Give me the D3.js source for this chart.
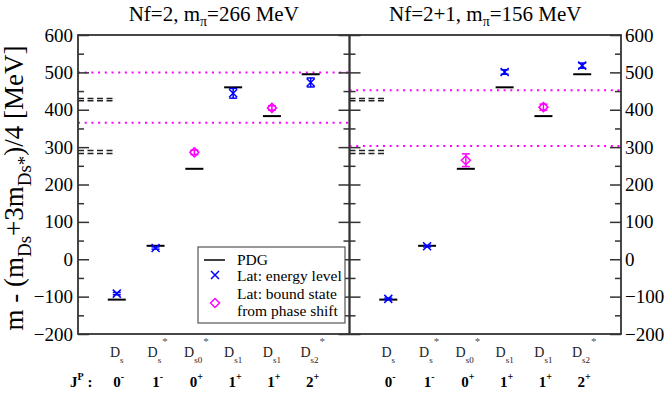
<!DOCTYPE html>
<html>
<head>
<meta charset="utf-8">
<script src="https://cdn.jsdelivr.net/npm/d3@7"></script>
<style>
  body { margin: 0; background: #fff; }
  svg text { font-family: "Liberation Serif", "Times New Roman", Times, serif; }
</style>
</head>
<body>
<div id="chart"></div>
<script>
// Categories along x (position 1..6).
var catSub = ["s", "s", "s0", "s1", "s1", "s2"];
var catSup = ["", "*", "*", "", "", "*"];
var jpNum = ["0", "1", "0", "1", "1", "2"];
var jpSign = ["-", "-", "+", "+", "+", "+"];

// PDG values (MeV, relative to spin average).
var pdg = [-108, 36, 242, 460, 383, 495];

// Panel 1: Nf=2, m_pi=266 MeV
var lat1 = [-92, 30, 286, 444, 405, 473];
var err1 = [3, 3, 6, 13, 6, 12];
var kind1 = ["E", "E", "B", "E", "B", "E"];   // E = energy level, B = bound state
var thr1 = [500, 365];
var dash1 = [430, 424, 291, 283];

// Panel 2: Nf=2+1, m_pi=156 MeV
var lat2 = [-106, 35, 265, 501, 407, 518];
var err2 = [2, 2, 17, 6, 8, 7];
var kind2 = ["E", "E", "B", "E", "B", "E"];
var thr2 = [452, 303];
var dash2 = [430, 424, 291, 283];

var yMajor = [-200, -100, 0, 100, 200, 300, 400, 500, 600];
var yMinor = [-150, -50, 50, 150, 250, 350, 450, 550];

var W = 664, H = 393;
var plotTop = 35, plotH = 299, panelW = 271.5;
var left1 = 78, left2 = 349.5;

var svg = d3.select("#chart").append("svg")
    .attr("width", W).attr("height", H);

var x = d3.scaleLinear().domain([0, 7]).range([0, panelW]);
var y = d3.scaleLinear().domain([-200, 600]).range([plotH, 0]);

var BLUE = "#0000ff", MAG = "#ff00ff", FRAME = "#333";

function drawPanel(x0, title, lat, err, kind, thr, dash, labelsLeft, labelsRight) {
    var g = svg.append("g").attr("transform", "translate(" + x0 + "," + plotTop + ")");

    // threshold lines (dotted magenta)
    g.selectAll(".thr").data(thr).enter().append("line")
        .attr("x1", 0).attr("x2", panelW)
        .attr("y1", d => y(d)).attr("y2", d => y(d))
        .attr("stroke", MAG).attr("stroke-width", 2)
        .attr("stroke-dasharray", "2,4.7");

    // short dashed lines near left edge
    g.selectAll(".dsh").data(dash).enter().append("line")
        .attr("x1", 0).attr("x2", 37)
        .attr("y1", d => y(d)).attr("y2", d => y(d))
        .attr("stroke", "#222").attr("stroke-width", 1.5)
        .attr("stroke-dasharray", "6,3.5");

    // axes: major + minor ticks, inward on both sides
    var la = g.append("g").call(d3.axisLeft(y).tickValues(yMajor).tickSize(-11)
        .tickFormat(labelsLeft ? d3.format("d") : ""));
    var lm = g.append("g").call(d3.axisLeft(y).tickValues(yMinor).tickSize(-6).tickFormat(""));
    var ra = g.append("g").attr("transform", "translate(" + panelW + ",0)")
        .call(d3.axisRight(y).tickValues(yMajor).tickSize(-11)
        .tickFormat(labelsRight ? d3.format("d") : ""));
    var rm = g.append("g").attr("transform", "translate(" + panelW + ",0)")
        .call(d3.axisRight(y).tickValues(yMinor).tickSize(-6).tickFormat(""));
    [la, lm, ra, rm].forEach(function (a) {
        a.attr("font-family", null);
        a.select(".domain").remove();
        a.selectAll("line").attr("stroke", FRAME).attr("stroke-width", 1.5);
        a.selectAll("text").attr("font-size", 19).attr("fill", "#000");
    });
    la.selectAll("text").attr("x", -5);
    ra.selectAll("text").attr("x", 4);

    // frame
    g.append("rect").attr("x", 0).attr("y", 0)
        .attr("width", panelW).attr("height", plotH)
        .attr("fill", "none").attr("stroke", FRAME).attr("stroke-width", 1.8);

    // PDG lines
    g.selectAll(".pdg").data(pdg).enter().append("line")
        .attr("x1", (d, i) => x(i + 1) - 9).attr("x2", (d, i) => x(i + 1) + 9)
        .attr("y1", d => y(d)).attr("y2", d => y(d))
        .attr("stroke", "#000").attr("stroke-width", 2);

    // lattice points with error bars
    lat.forEach(function (v, i) {
        var cx = x(i + 1), cy = y(v);
        var col = kind[i] === "E" ? BLUE : MAG;
        var yt = y(v + err[i]), yb = y(v - err[i]);
        var p = g.append("g").attr("stroke", col).attr("stroke-width", 1.5).attr("fill", "none");
        p.append("line").attr("x1", cx).attr("x2", cx).attr("y1", yt).attr("y2", yb);
        p.append("line").attr("x1", cx - 4).attr("x2", cx + 4).attr("y1", yt).attr("y2", yt);
        p.append("line").attr("x1", cx - 4).attr("x2", cx + 4).attr("y1", yb).attr("y2", yb);
        if (kind[i] === "E") {
            p.append("path").attr("d", "M" + (cx - 4) + "," + (cy - 4) + "L" + (cx + 4) + "," + (cy + 4) +
                "M" + (cx - 4) + "," + (cy + 4) + "L" + (cx + 4) + "," + (cy - 4));
        } else {
            p.append("path").attr("d", "M" + cx + "," + (cy - 4.5) + "L" + (cx + 4.5) + "," + cy +
                "L" + cx + "," + (cy + 4.5) + "L" + (cx - 4.5) + "," + cy + "Z");
        }
    });

    // title
    var t = svg.append("text").attr("x", x0 + panelW / 2).attr("y", 21)
        .attr("text-anchor", "middle").attr("font-size", 21);
    t.append("tspan").text(title[0] + ", m");
    t.append("tspan").attr("dy", 5).attr("font-size", 14).text("\u03c0");
    t.append("tspan").attr("dy", -5).text("=" + title[1] + " MeV");

    // category labels
    catSub.forEach(function (s, i) {
        var lx = svg.append("text").attr("x", x0 + x(i + 1) + (catSup[i] ? 2 : 0)).attr("y", 357)
            .attr("text-anchor", "middle").attr("font-size", 14).attr("fill", "#222");
        lx.append("tspan").text("D");
        lx.append("tspan").attr("dy", 6).attr("font-size", 9).text(s);
        if (catSup[i]) lx.append("tspan").attr("dy", -18).attr("dx", 1).attr("font-size", 11)
            .attr("fill", "#555").text(catSup[i]);

        var jp = svg.append("text").attr("x", x0 + x(i + 1) + 2).attr("y", 387)
            .attr("text-anchor", "middle").attr("font-size", 15).attr("font-weight", "bold");
        jp.append("tspan").text(jpNum[i]);
        jp.append("tspan").attr("dy", -7).attr("font-size", 10).text(jpSign[i]);
    });
}

drawPanel(left1, ["Nf=2", "266"], lat1, err1, kind1, thr1, dash1, true, false);
drawPanel(left2, ["Nf=2+1", "156"], lat2, err2, kind2, thr2, dash2, false, true);

// J^P row header
var jh = svg.append("text").attr("x", 70).attr("y", 387)
    .attr("font-size", 15).attr("font-weight", "bold");
jh.append("tspan").text("J");
jh.append("tspan").attr("dy", -7).attr("font-size", 10).text("P");
jh.append("tspan").attr("dy", 7).attr("dx", 4).text(":");

// y-axis label
var yl = svg.append("text")
    .attr("transform", "translate(23,188) rotate(-90)")
    .attr("text-anchor", "middle").attr("font-size", 27);
yl.append("tspan").text("m - (m");
yl.append("tspan").attr("dy", 8).attr("font-size", 19).text("Ds");
yl.append("tspan").attr("dy", -8).text("+3m");
yl.append("tspan").attr("dy", 8).attr("font-size", 19).text("Ds*");
yl.append("tspan").attr("dy", -8).text(")/4  [MeV]");

// legend
var lg = svg.append("g").attr("transform", "translate(198,247)");
lg.append("rect").attr("width", 147).attr("height", 76)
    .attr("fill", "#fff").attr("stroke", "#555").attr("stroke-width", 1.2);
lg.append("line").attr("x1", 6).attr("x2", 27).attr("y1", 13).attr("y2", 13)
    .attr("stroke", "#000").attr("stroke-width", 1.5);
lg.append("path").attr("d", "M13,24L21,32M13,32L21,24")
    .attr("stroke", BLUE).attr("stroke-width", 1.5);
lg.append("path").attr("d", "M17,51.5L21.5,56L17,60.5L12.5,56Z")
    .attr("stroke", MAG).attr("stroke-width", 1.5).attr("fill", "none");
var legText = [["PDG", 18], ["Lat: energy level", 34], ["Lat: bound state", 52], ["from phase shift", 69]];
lg.selectAll(".lt").data(legText).enter().append("text")
    .attr("x", 39).attr("y", d => d[1]).attr("font-size", 15.5).text(d => d[0]);
</script>
</body>
</html>
